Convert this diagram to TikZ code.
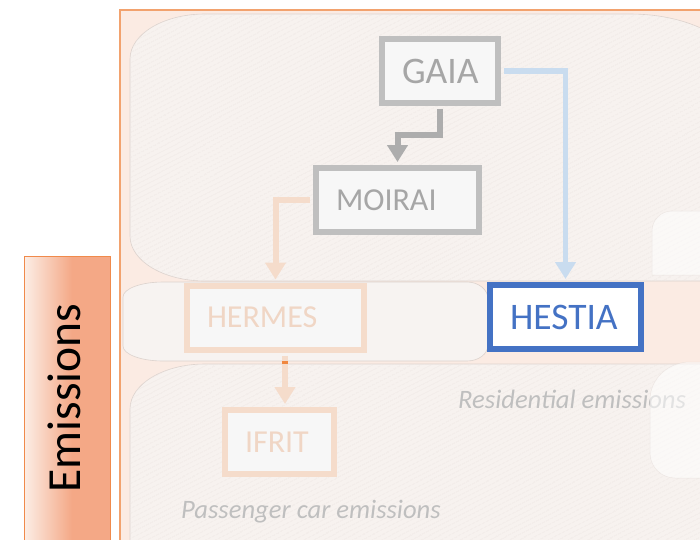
\documentclass[tikz,border=0pt]{standalone}
\usepackage{fontspec}
\setmainfont{Carlito}
\usetikzlibrary{arrows.meta,patterns.meta,calc}
\definecolor{framefill}{HTML}{FBEBE3}
\definecolor{frameline}{HTML}{F2A26E}
\definecolor{regfill}{HTML}{F7F2EF}
\definecolor{hatchc}{HTML}{EEE6E2}
\definecolor{bandfill}{HTML}{F7F3F1}
\definecolor{regline}{HTML}{DCD2CD}
\definecolor{graybox}{HTML}{BFBFBF}
\definecolor{graytext}{HTML}{A6A6A6}
\definecolor{grayarrow}{HTML}{ADADAD}
\definecolor{bluearrow}{HTML}{C9DCEF}
\definecolor{orangebox}{HTML}{F5DCCB}
\definecolor{orangetext}{HTML}{F0D6C5}
\definecolor{orangedark}{HTML}{F0873F}
\definecolor{hestiablue}{HTML}{4472C4}
\definecolor{captext}{HTML}{BFBFBF}
\definecolor{emisL}{HTML}{FCEEE6}
\definecolor{emisR}{HTML}{F4A886}
\definecolor{emisline}{HTML}{F08A4B}
\begin{document}
\begin{tikzpicture}[x=1pt,y=-1pt,
  region/.style={fill=regfill, draw=regline, line width=0.6pt},
  hatched/.style={pattern={Lines[angle=27,distance=4pt,line width=0.6pt]}, pattern color=hatchc},
  modbox/.style={draw, line width=6pt, minimum height=64pt, inner xsep=20pt, inner ysep=0pt, align=left, font=\fontsize{32}{38}\selectfont},
  bigtext/.style={font=\fontsize{37.5}{44}\selectfont},
  graymod/.style={modbox, draw=graybox, fill=white!97!black, text=graytext},
  orangemod/.style={modbox, draw=orangebox, fill=white!97!black, text=orangetext},
  bluemod/.style={modbox, draw=hestiablue, fill=white, text=hestiablue},
  conn/.style={line width=6pt, line join=miter, -{Triangle[width=20pt,length=17pt]}, shorten >=3pt},
  caption/.style={anchor=base west, inner sep=0pt, font=\itshape\fontsize{26.6}{32}\selectfont, text=captext}
]
\useasboundingbox (0,0) rectangle (700,539);
\clip (0,0) rectangle (700,539);
\fill[white] (0,0) rectangle (700,539);
% outer frame
\fill[framefill] (120,10) rectangle (730,560);
\draw[frameline, line width=1.5pt] (730,10) -- (120,10) -- (120,560);
% top region
\path[region] (205,14) -- (630,14) arc[start angle=-90,end angle=0,x radius=110,y radius=60]
  -- (740,281) -- (205,281) arc[start angle=90,end angle=180,x radius=75,y radius=45]
  -- (130,59) arc[start angle=180,end angle=270,x radius=75,y radius=45] -- cycle;
\path[hatched] (205,14) -- (630,14) arc[start angle=-90,end angle=0,x radius=110,y radius=60]
  -- (740,281) -- (205,281) arc[start angle=90,end angle=180,x radius=75,y radius=45]
  -- (130,59) arc[start angle=180,end angle=270,x radius=75,y radius=45] -- cycle;
% middle band
\path[fill=bandfill, draw=regline, line width=0.6pt] (163,282) -- (467,282) arc[start angle=-90,end angle=0,x radius=21,y radius=17]
  -- (488,345) arc[start angle=0,end angle=90,x radius=21,y radius=16]
  -- (163,361) arc[start angle=90,end angle=180,x radius=40,y radius=15]
  -- (123,297) arc[start angle=180,end angle=270,x radius=40,y radius=15] -- cycle;
% bottom region
\path[region] (205,364) -- (740,364) -- (740,570) -- (130,570) -- (130,409)
  arc[start angle=180,end angle=270,x radius=75,y radius=45] -- cycle;
\path[hatched] (205,364) -- (740,364) -- (740,570) -- (130,570) -- (130,409)
  arc[start angle=180,end angle=270,x radius=75,y radius=45] -- cycle;
% Emissions bar
\shade[left color=emisL, right color=emisR] (24,256) rectangle (72,560);
\fill[emisR] (72,256) rectangle (110,560);
\draw[emisline, line width=1pt] (24,560) -- (24,256) -- (110,256) -- (110,560);
\node[rotate=90, anchor=base, inner sep=0pt, font=\fontsize{47.5}{56}\selectfont] (emis) at (80,398) {Emissions};
% modules
\node[graymod, bigtext, text width=76pt] (gaia) at (440,71) {GAIA};
\node[graymod, text width=123pt] (moirai) at (397.5,200) {MOIRAI};
\node[orangemod, text width=137pt] (hermes) at (275.5,317.5) {HERMES};
\node[orangemod, text width=69pt] (ifrit) at (279.5,442) {IFRIT};
\node[bluemod, bigtext, text width=111pt] (hestia) at (565.5,317) {HESTIA};
% connectors
\draw[conn, draw=grayarrow, shorten <=3pt] (gaia.south) -- (gaia.south |- 0,135) -| (moirai.north);
\draw[conn, draw=bluearrow, line width=5.5pt, shorten <=3pt] (gaia.east) -| (hestia.north);
\draw[conn, draw=orangebox, shorten <=3pt] (moirai.west) -| (hermes.north);
\draw[conn, draw=orangebox, shorten <=3pt] ([xshift=9.5pt]hermes.south) -- ([xshift=9.5pt]hermes.south |- ifrit.north);
\fill[orangedark] (282,360.5) rectangle (288,364);
% captions
\node[caption] (rescap) at (458,408) {Residential emissions};
\node[caption] (carcap) at (181,518) {Passenger car emissions};
% right-hand partly hidden shape
\path[fill=white, fill opacity=0.55, draw=regline, draw opacity=0.4, line width=0.5pt]
  (672,211) -- (740,211) -- (740,275) -- (652,275) -- (652,231) arc[start angle=180,end angle=270,radius=20] -- cycle;
\path[fill=white, fill opacity=0.55, draw=regline, draw opacity=0.4, line width=0.5pt]
  (690,362) -- (740,362) -- (740,478) -- (675,478) arc[start angle=90,end angle=180,x radius=25,y radius=25]
  -- (650,400) arc[start angle=180,end angle=270,x radius=40,y radius=38] -- cycle;
\end{tikzpicture}
\end{document}
